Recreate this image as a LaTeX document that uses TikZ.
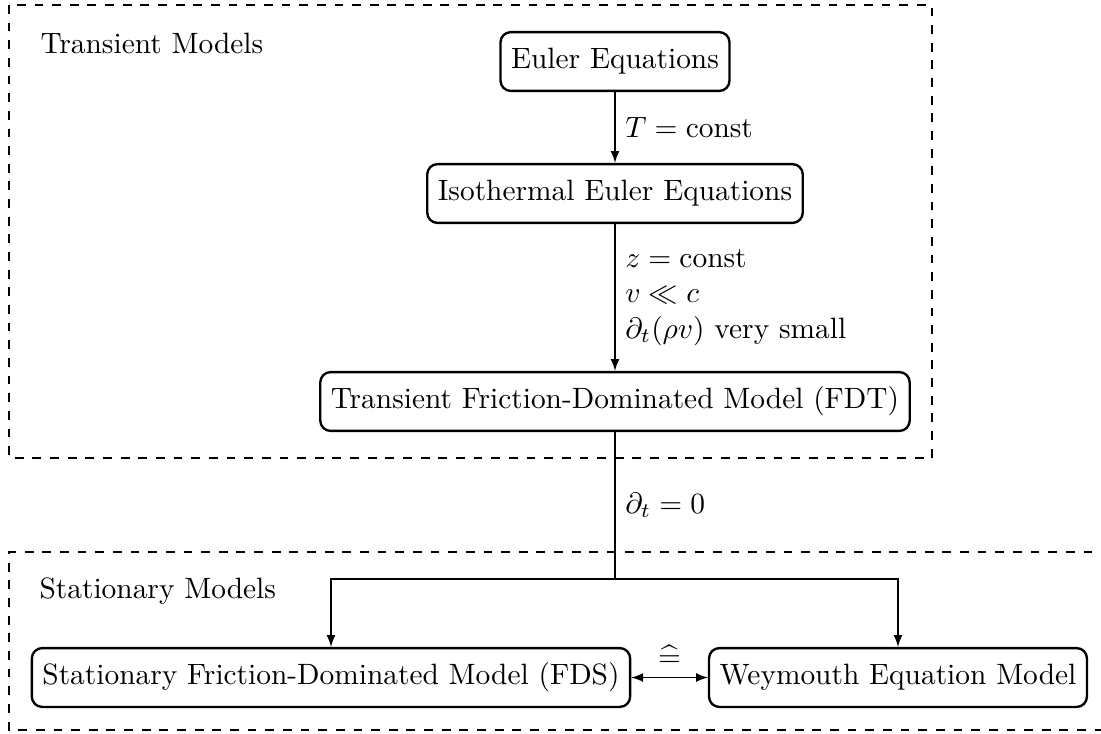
\documentclass[tikz,border=0pt]{standalone}
\usepackage{amsmath,amssymb}
\usetikzlibrary{arrows}
\begin{document}
\begin{tikzpicture}[x=0.340pt,y=-0.340pt,
  box/.style={draw,thick,rounded corners=3.5pt,minimum height=20pt,inner xsep=3.6pt},
  frame/.style={draw,thick,dashed},
  arr/.style={-latex},
  lbl/.style={right,align=left,inner xsep=3.3pt},
  title/.style={anchor=base west,inner sep=0pt}]
\useasboundingbox (0,0) rectangle (1101,733);
% frames
\draw[frame] (9,5) rectangle (932,458);
\draw[frame] (1110,552) -- (9,552) -- (9,730) -- (1110,730);
\node[title] (tm) at (40,53) {Transient Models};
\node[title] (sm) at (39,598) {Stationary Models};
% nodes
\node[box] (euler) at (615,61.5) {Euler Equations};
\node[box] (iso) at (615,193.5) {Isothermal Euler Equations};
\node[box] (fdt) at (615,401.5) {Transient Friction-Dominated Model (FDT)};
\node[box] (fds) at (331,677.5) {Stationary Friction-Dominated Model (FDS)};
\node[box] (wey) at (898,677.5) {Weymouth Equation Model};
\coordinate (br) at (615,579);
% connectors
\draw[arr] (euler) -- node[lbl] (l1) {$T = \text{const}$} (iso);
\draw[arr] (iso) -- node[lbl] (l2) {$z = \text{const}$\\ $v \ll c$\\ $\partial_t(\rho v)$ very small} (fdt);
\draw (fdt) -- node[lbl] (l3) {$\partial_t = 0$} (br);
\draw[arr] (br) -| (fds.north);
\draw[arr] (br) -| (wey.north);
\draw[latex-latex] (fds.east) -- node[above,inner sep=3.5pt] (eq) {$\widehat{=}$} (wey.west);
\end{tikzpicture}
\end{document}
